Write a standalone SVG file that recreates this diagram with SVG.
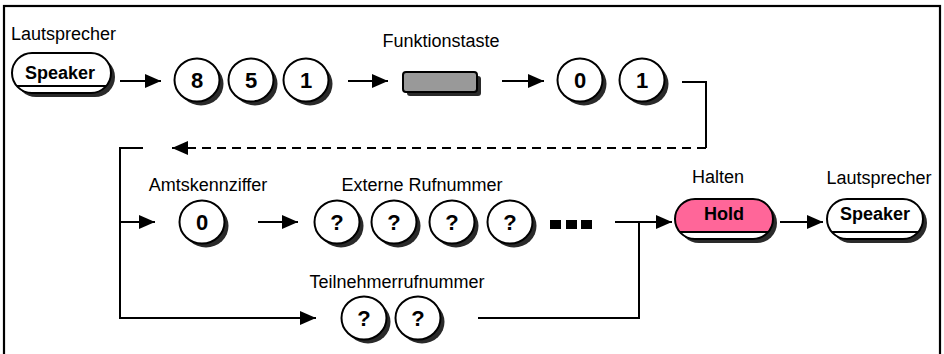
<svg xmlns="http://www.w3.org/2000/svg" width="944" height="354" viewBox="0 0 944 354">
<defs>
<style>
.lbl{font-family:"Liberation Sans",Arial,sans-serif;font-size:18px;fill:#000}
.key{font-family:"Liberation Sans",Arial,sans-serif;font-size:18px;font-weight:bold;fill:#000;text-anchor:middle}
.dig{font-family:"Liberation Sans",Arial,sans-serif;font-size:22px;font-weight:bold;fill:#000;text-anchor:middle}
.sh{fill:#2a2a2a}
.ol{stroke:#000;stroke-width:2}
.ln{fill:none;stroke:#000;stroke-width:2}
</style>
<marker id="ah" viewBox="0 0 16 14" refX="16" refY="7" markerWidth="16" markerHeight="14" markerUnits="userSpaceOnUse" orient="auto">
<path d="M0,0 L16,7 L0,14 Z" fill="#000"/>
</marker>
</defs>
<rect x="4" y="6" width="936" height="360" fill="#fff" stroke="#000" stroke-width="2.2"/>

<g id="connectors">
<line class="ln" x1="120" y1="81" x2="161" y2="81" marker-end="url(#ah)"/>
<line class="ln" x1="348" y1="81" x2="388" y2="81" marker-end="url(#ah)"/>
<line class="ln" x1="502" y1="81" x2="544" y2="81" marker-end="url(#ah)"/>
<path class="ln" d="M682 82 H706 V148"/>
<line class="ln" x1="706" y1="148" x2="172" y2="148" stroke-dasharray="9,6" marker-end="url(#ah)"/>
<path class="ln" d="M143 148 H120 V318 H316" marker-end="url(#ah)"/>
<line class="ln" x1="120" y1="222" x2="155" y2="222" marker-end="url(#ah)"/>
<line class="ln" x1="258" y1="222" x2="298" y2="222" marker-end="url(#ah)"/>
<line class="ln" x1="615" y1="222" x2="672" y2="222" marker-end="url(#ah)"/>
<path class="ln" d="M639 222 V318 H478"/>
<line class="ln" x1="780" y1="222" x2="823" y2="222" marker-end="url(#ah)"/>
</g>

<g id="speaker1">
<text class="lbl" x="11" y="40">Lautsprecher</text>
<rect class="sh" x="16" y="57" width="99" height="40" rx="20"/>
<rect class="ol" x="12" y="53" width="99" height="40" rx="20" fill="#fff"/>
<line class="ol" x1="16.8" y1="86" x2="106.2" y2="86"/>
<text class="key" x="60" y="79">Speaker</text>
</g>

<g id="d8">
<ellipse class="sh" cx="201" cy="84" rx="22.5" ry="21.5"/>
<ellipse class="ol" cx="197" cy="80" rx="22.5" ry="21.5" fill="#fff"/>
<text class="dig" x="197" y="88">8</text>
</g>
<g id="d5">
<ellipse class="sh" cx="255" cy="84" rx="22.5" ry="21.5"/>
<ellipse class="ol" cx="251" cy="80" rx="22.5" ry="21.5" fill="#fff"/>
<text class="dig" x="251" y="88">5</text>
</g>
<g id="d1">
<ellipse class="sh" cx="310" cy="84" rx="22.5" ry="21.5"/>
<ellipse class="ol" cx="306" cy="80" rx="22.5" ry="21.5" fill="#fff"/>
<text class="dig" x="306" y="88">1</text>
</g>

<g id="funktionstaste">
<text class="lbl" x="441" y="47" text-anchor="middle">Funktionstaste</text>
<rect class="sh" x="407" y="76" width="74" height="20" rx="3"/>
<rect class="ol" x="403" y="72" width="74" height="20" rx="3" fill="#999"/>
</g>

<g id="d0a">
<ellipse class="sh" cx="584" cy="84" rx="22.5" ry="21.5"/>
<ellipse class="ol" cx="580" cy="80" rx="22.5" ry="21.5" fill="#fff"/>
<text class="dig" x="580" y="88">0</text>
</g>
<g id="d1b">
<ellipse class="sh" cx="646" cy="84" rx="22.5" ry="21.5"/>
<ellipse class="ol" cx="642" cy="80" rx="22.5" ry="21.5" fill="#fff"/>
<text class="dig" x="642" y="88">1</text>
</g>

<g id="amt">
<text class="lbl" x="208" y="191" text-anchor="middle">Amtskennziffer</text>
<ellipse class="sh" cx="206" cy="226" rx="22.5" ry="21.5"/>
<ellipse class="ol" cx="202" cy="222" rx="22.5" ry="21.5" fill="#fff"/>
<text class="dig" x="202" y="230">0</text>
</g>

<g id="extern">
<text class="lbl" x="422" y="191" text-anchor="middle">Externe Rufnummer</text>
<ellipse class="sh" cx="341" cy="226" rx="22.5" ry="21.5"/>
<ellipse class="ol" cx="337" cy="222" rx="22.5" ry="21.5" fill="#fff"/>
<text class="dig" x="337" y="230">?</text>
<ellipse class="sh" cx="398" cy="226" rx="22.5" ry="21.5"/>
<ellipse class="ol" cx="394" cy="222" rx="22.5" ry="21.5" fill="#fff"/>
<text class="dig" x="394" y="230">?</text>
<ellipse class="sh" cx="456" cy="226" rx="22.5" ry="21.5"/>
<ellipse class="ol" cx="452" cy="222" rx="22.5" ry="21.5" fill="#fff"/>
<text class="dig" x="452" y="230">?</text>
<ellipse class="sh" cx="514" cy="226" rx="22.5" ry="21.5"/>
<ellipse class="ol" cx="510" cy="222" rx="22.5" ry="21.5" fill="#fff"/>
<text class="dig" x="510" y="230">?</text>
<rect x="550" y="220" width="11" height="9" fill="#000"/>
<rect x="566" y="220" width="11" height="9" fill="#000"/>
<rect x="581" y="220" width="11" height="9" fill="#000"/>
</g>

<g id="teilnehmer">
<text class="lbl" x="397" y="288" text-anchor="middle">Teilnehmerrufnummer</text>
<ellipse class="sh" cx="368" cy="322" rx="22.5" ry="21.5"/>
<ellipse class="ol" cx="364" cy="318" rx="22.5" ry="21.5" fill="#fff"/>
<text class="dig" x="364" y="326">?</text>
<ellipse class="sh" cx="422" cy="322" rx="22.5" ry="21.5"/>
<ellipse class="ol" cx="418" cy="318" rx="22.5" ry="21.5" fill="#fff"/>
<text class="dig" x="418" y="326">?</text>
</g>

<g id="hold">
<text class="lbl" x="718" y="183" text-anchor="middle">Halten</text>
<rect class="sh" x="679" y="203" width="98" height="40" rx="20"/>
<rect x="675" y="199" width="98" height="40" rx="20" fill="#ff6699"/>
<path d="M679.8 232 H768.2 A20 20 0 0 1 753 239 H695 A20 20 0 0 1 679.8 232 Z" fill="#fff"/>
<rect class="ol" x="675" y="199" width="98" height="40" rx="20" fill="none"/>
<line class="ol" x1="679.8" y1="232" x2="768.2" y2="232"/>
<text class="key" x="724" y="220">Hold</text>
</g>

<g id="speaker2">
<text class="lbl" x="879" y="184" text-anchor="middle">Lautsprecher</text>
<rect class="sh" x="831" y="203" width="96" height="40" rx="20"/>
<rect class="ol" x="827" y="199" width="96" height="40" rx="20" fill="#fff"/>
<line class="ol" x1="831.8" y1="232" x2="918.2" y2="232"/>
<text class="key" x="875" y="220">Speaker</text>
</g>
</svg>
